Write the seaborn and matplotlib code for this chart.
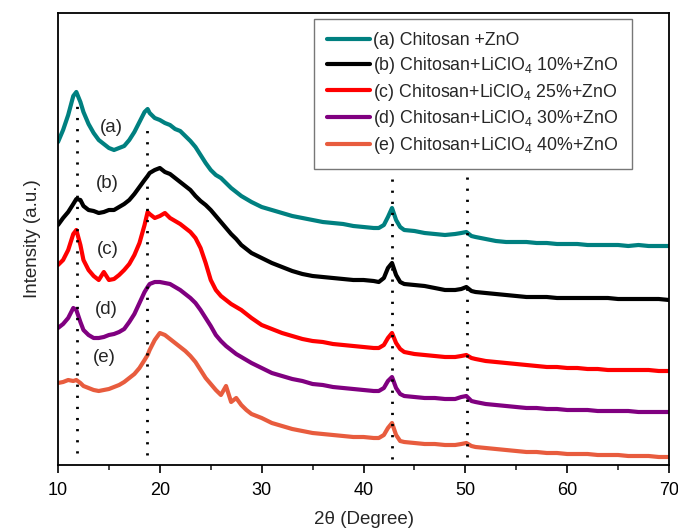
import numpy as np
import pandas as pd
import matplotlib
matplotlib.use("Agg")
import matplotlib.pyplot as plt
import seaborn as sns
from matplotlib.lines import Line2D

# 2-theta grid (degrees)
two_theta = [10, 10.5, 11, 11.5, 11.8, 12.2, 12.5, 13, 13.5, 14, 14.5, 15, 15.5, 16, 16.5,
             17, 17.5, 18, 18.5, 18.8, 19, 19.5, 20, 20.5, 21, 21.5, 22, 22.5, 23, 23.5,
             24, 24.5, 25, 25.5, 26, 26.5, 27, 27.5, 28, 28.5, 29, 30, 31, 32, 33, 34, 35,
             36, 37, 38, 39, 40, 41, 41.5, 42, 42.4, 42.8, 43.2, 43.6, 44, 45, 46, 47, 48,
             49, 49.6, 50.1, 50.6, 51, 52, 53, 54, 55, 56, 57, 58, 59, 60, 61, 62, 63, 64,
             65, 66, 67, 68, 69, 70]

# Intensities (a.u., stacked/offset as in the figure)
int_a = [323, 335, 350, 369, 373, 363, 353, 341, 332, 325, 321, 317, 315, 317, 319,
         325, 333, 343, 353, 356, 352, 347, 345, 342, 340, 336, 334, 329, 324, 318,
         310, 302, 295, 290, 287, 282, 277, 273, 269, 266, 263, 258, 255, 252, 249, 247, 245,
         243, 242, 241, 239, 238, 237, 237, 240, 248, 257, 245, 238, 235, 234, 232, 231, 230,
         231, 232, 233, 229, 228, 226, 224, 223, 223, 223, 222, 222, 221, 221, 221, 220, 220, 220,
         220, 219, 220, 219, 219, 219]
int_b = [240, 247, 253, 261, 266, 265, 259, 255, 254, 252, 253, 255, 255, 258, 261,
         265, 271, 278, 285, 289, 292, 295, 297, 293, 291, 287, 283, 279, 275, 269,
         264, 260, 255, 249, 243, 237, 231, 226, 220, 216, 212, 207, 202, 198, 194, 191, 189,
         188, 187, 186, 185, 185, 184, 183, 187, 197, 202, 190, 183, 181, 180, 179, 177, 175,
         175, 176, 178, 174, 173, 172, 171, 170, 169, 168, 168, 168, 167, 167, 167, 167, 167, 167,
         166, 166, 166, 166, 166, 165]
int_c = [200, 205, 215, 231, 235, 220, 205, 195, 189, 185, 193, 185, 186, 190, 195,
         201, 210, 222, 240, 253, 251, 247, 249, 252, 247, 244, 241, 237, 233, 227,
         217, 202, 185, 175, 169, 165, 161, 158, 155, 151, 147, 140, 136, 132, 129, 126, 124,
         123, 121, 120, 119, 118, 117, 117, 120, 127, 132, 122, 116, 113, 111, 110, 109, 108,
         108, 109, 110, 107, 106, 104, 103, 102, 101, 100, 99, 98, 98, 97, 97, 96, 96, 95,
         95, 95, 95, 95, 94, 94]
int_d = [137, 141, 147, 157, 155, 143, 135, 130, 127, 127, 128, 130, 131, 133, 136,
         143, 151, 162, 173, 178, 181, 183, 183, 182, 181, 178, 175, 171, 167, 162,
         155, 147, 139, 130, 124, 119, 115, 111, 108, 105, 102, 97, 92, 89, 86, 84, 81,
         80, 78, 77, 76, 75, 74, 74, 77, 84, 88, 77, 71, 69, 68, 67, 67, 66,
         66, 68, 69, 64, 63, 61, 60, 59, 58, 57, 57, 56, 56, 55, 55, 55, 54, 54,
         54, 54, 53, 53, 53, 53]
int_e = [82, 83, 85, 84, 85, 82, 79, 77, 75, 74, 75, 76, 78, 80, 83,
         87, 91, 97, 105, 110, 115, 125, 132, 130, 126, 122, 118, 114, 109, 103,
         95, 87, 81, 75, 70, 79, 63, 67, 60, 55, 51, 47, 42, 39, 36, 34, 32,
         31, 30, 29, 28, 28, 27, 27, 30, 37, 42, 30, 24, 23, 22, 21, 21, 20,
         20, 21, 22, 19, 18, 17, 16, 15, 14, 13, 13, 12, 12, 11, 11, 11, 10, 10,
         10, 9, 9, 9, 8, 8]

series_labels = ["(a) Chitosan +ZnO",
                 r"(b) Chitosan+LiClO$_{\mathregular{4}}$ 10%+ZnO",
                 r"(c) Chitosan+LiClO$_{\mathregular{4}}$ 25%+ZnO",
                 r"(d) Chitosan+LiClO$_{\mathregular{4}}$ 30%+ZnO",
                 r"(e) Chitosan+LiClO$_{\mathregular{4}}$ 40%+ZnO"]
series_colors = ["#008080", "#000000", "#FF0000", "#800080", "#E85C3E"]
curve_tags = ["(a)", "(b)", "(c)", "(d)", "(e)"]
tag_x = [15.2, 14.8, 14.9, 14.7, 14.5]
tag_y = [338, 282, 215, 155, 107]

peak_positions = [11.85, 18.75, 42.8, 50.2]
peak_line_top = [365, 342, 290, 290]
peak_line_bottom = [12, 10, 6, 8]

sns.set_theme(style="white")
plt.rcParams["font.family"] = ["Liberation Sans", "DejaVu Sans"]
plt.rcParams["mathtext.fontset"] = "custom"
plt.rcParams["mathtext.rm"] = "Liberation Sans"
plt.rcParams["mathtext.it"] = "Liberation Sans"

rows = []
for lab, vals in zip(series_labels, [int_a, int_b, int_c, int_d, int_e]):
    for x, v in zip(two_theta, vals):
        rows.append({"two_theta": x, "intensity": v, "sample": lab})
df = pd.DataFrame(rows)

fig = plt.figure(figsize=(6.78, 5.31), dpi=100)
ax = fig.add_axes([58/678, 66/531, 611/678, 452/531])

sns.lineplot(data=df, x="two_theta", y="intensity", hue="sample",
             hue_order=series_labels, palette=series_colors, estimator=None,
             sort=False, linewidth=3.0, ax=ax, legend=False)

for xp, yt, yb in zip(peak_positions, peak_line_top, peak_line_bottom):
    ax.plot([xp, xp], [yb, yt], color="black", linewidth=2.0,
            linestyle=(0, (0.8, 3.2)), zorder=5)

for t, xx, yy in zip(curve_tags, tag_x, tag_y):
    ax.text(xx, yy, t, fontsize=13.5, ha="center", va="center")

handles = [Line2D([0], [0], color=c, linewidth=3.0) for c in series_colors]
leg = ax.legend(handles, series_labels, loc="upper right",
                bbox_to_anchor=((632-58)/611, (465-19)/452), borderaxespad=0,
                fontsize=12.8, frameon=True, fancybox=False, edgecolor="#555555",
                handlelength=2.4, handletextpad=0.2, borderpad=0.75,
                labelspacing=0.32)
leg.get_frame().set_linewidth(1.0)

ax.set_xlim(10, 70)
ax.set_ylim(0, 452)
ax.set_xticks([10, 20, 30, 40, 50, 60, 70])
ax.set_xticks([15, 25, 35, 45, 55, 65], minor=True)
ax.set_yticks([])
ax.tick_params(axis="x", which="major", direction="out", length=6, width=1.2,
               labelsize=13, colors="black", bottom=True, pad=6)
ax.tick_params(axis="x", which="minor", direction="out", length=3.5, width=1.2,
               bottom=True)
for s in ax.spines.values():
    s.set_color("black")
    s.set_linewidth(1.3)
    s.set_visible(True)

ax.set_xlabel("2θ (Degree)", fontsize=13.5, labelpad=9)
ax.set_ylabel("Intensity (a.u.)", fontsize=13.5, labelpad=12)

fig.savefig("out.png", dpi=100)
